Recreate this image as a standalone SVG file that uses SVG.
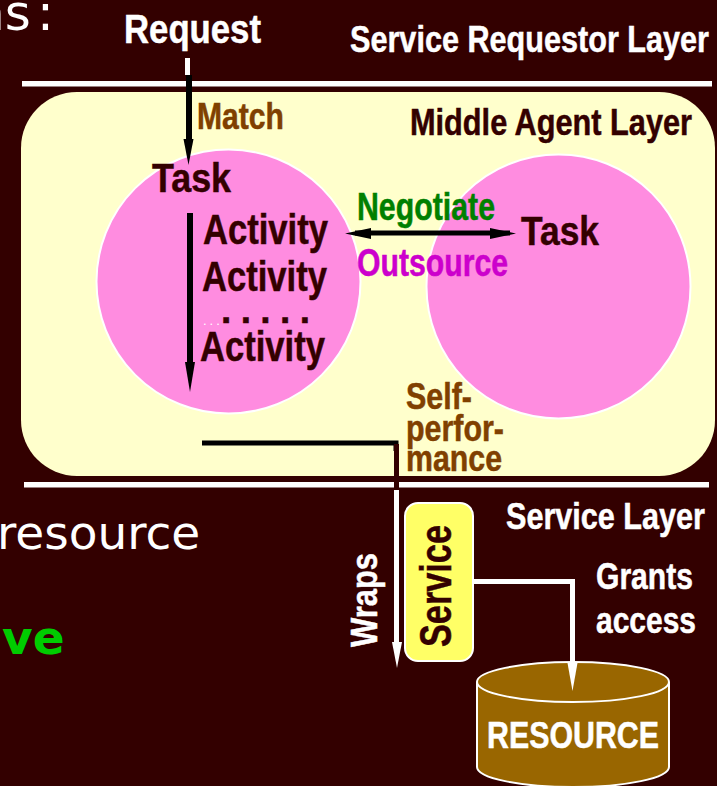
<svg xmlns="http://www.w3.org/2000/svg" width="717" height="786" viewBox="0 0 717 786">
<style>
.b{font-family:"Liberation Sans",Arial,sans-serif;font-weight:700;font-size:37px;stroke-width:.5}
.s38{font-size:38px}.s41{font-size:41px}.s42{font-size:42px}.s44{font-size:44px}
.w{fill:#fff;stroke:#fff}.d{fill:#330000;stroke:#330000}.br{fill:#804000;stroke:#804000}
.v{font-family:"DejaVu Sans",sans-serif}
</style>
<rect width="717" height="786" fill="#330000"/>
<text class="v" fill="#fff" x="-27" y="30" font-size="50">ns<tspan x="37">:</tspan></text>
<text class="v" fill="#fff" x="-3" y="549" font-size="47">resource</text>
<text class="v" x="2" y="654" font-size="47" font-weight="700" fill="#00cc00">ve</text>
<g id="layer-lines">
<rect x="22" y="81" width="690" height="5.500" fill="#fff"/>
<rect x="24" y="482" width="685" height="5.500" fill="#fff"/>
</g>
<g id="middle-agent-layer">
<rect x="21" y="92" width="694" height="384" rx="56" fill="#ffffcc"/>
<text class="b d" x="410" y="135" textLength="282" lengthAdjust="spacingAndGlyphs">Middle Agent Layer</text>
</g>
<g id="circle-left"><circle cx="228.500" cy="281.500" r="132" fill="#ff8ce0" stroke="#fff" stroke-width="2"/></g>
<g id="circle-right"><circle cx="558.500" cy="286.500" r="132" fill="#ff8ce0" stroke="#fff" stroke-width="2"/></g>
<g id="connectors">
<rect x="185" y="58" width="5" height="17" fill="#fff"/>
<rect x="186" y="75" width="6" height="70" fill="#000"/>
<path d="M183.500 139H193.500L188.500 165Z" fill="#000"/>
<rect x="187" y="213" width="6" height="150" fill="#000"/>
<path d="M185 362H195L190 392Z" fill="#000"/>
<rect x="355" y="230.500" width="155" height="5" fill="#000"/>
<path d="M345 233.500L371 228V239Z M516 233.500L490 228V239Z" fill="#000"/>
<path d="M202 443H396V451" fill="none" stroke="#000" stroke-width="5"/>
<rect x="394" y="444" width="5" height="46" fill="#330000"/>
<rect x="394" y="490" width="5" height="152" fill="#fff"/>
<path d="M392 642H402L397 668Z" fill="#fff"/>
<path d="M474 581.500H572.500V665" fill="none" stroke="#fff" stroke-width="5"/>
</g>
<g id="service">
<rect x="405" y="503" width="68" height="158" rx="13" fill="#ffff66" stroke="#fff" stroke-width="2"/>
<text class="b d s44" transform="translate(451,647) rotate(-90)" textLength="122" lengthAdjust="spacingAndGlyphs">Service</text>
</g>
<g id="resource">
<path d="M477 682A96 20 0 0 1 669 682V767A96 20 0 0 1 477 767Z" fill="#996600" stroke="#fff" stroke-width="2"/>
<path d="M477 682A96 20 0 0 0 669 682" fill="none" stroke="#fff" stroke-width="2"/>
<text class="b w" x="487" y="748" textLength="172" lengthAdjust="spacingAndGlyphs">RESOURCE</text>
</g>
<path d="M567.500 663H577.500L572.500 691Z" fill="#fff"/>
<g id="labels">
<text class="b w s41" x="124" y="43" textLength="137" lengthAdjust="spacingAndGlyphs">Request</text>
<text class="b w" x="350" y="52" textLength="359" lengthAdjust="spacingAndGlyphs">Service Requestor Layer</text>
<text class="b br" x="197" y="129" textLength="87" lengthAdjust="spacingAndGlyphs">Match</text>
<text class="b d s41" x="152" y="192" textLength="79" lengthAdjust="spacingAndGlyphs">Task</text>
<text class="b d s42" x="203" y="244" textLength="125" lengthAdjust="spacingAndGlyphs">Activity</text>
<text class="b d s42" x="202" y="291" textLength="125" lengthAdjust="spacingAndGlyphs">Activity</text>
<text class="b d s42" x="200" y="361" textLength="125" lengthAdjust="spacingAndGlyphs">Activity</text>
<text font-family="Liberation Sans, sans-serif" x="203" y="325" font-size="13" fill="#fff" letter-spacing="3">...</text>
<text class="b d" x="221" y="323" textLength="89" lengthAdjust="spacing">.....</text>
<text class="b s38" x="357" y="220" fill="#008000" stroke="#008000" textLength="138" lengthAdjust="spacingAndGlyphs">Negotiate</text>
<text class="b s38" x="357" y="276" fill="#cc00cc" stroke="#cc00cc" textLength="151" lengthAdjust="spacingAndGlyphs">Outsource</text>
<text class="b d s41" x="521" y="245" textLength="78" lengthAdjust="spacingAndGlyphs">Task</text>
<text class="b br" x="406" y="409" textLength="66" lengthAdjust="spacingAndGlyphs">Self-</text>
<text class="b br" x="406" y="441" textLength="98" lengthAdjust="spacingAndGlyphs">perfor-</text>
<text class="b br" x="406" y="471" textLength="96" lengthAdjust="spacingAndGlyphs">mance</text>
<text class="b w" x="506" y="529" textLength="199" lengthAdjust="spacingAndGlyphs">Service Layer</text>
<text class="b w" x="596" y="589" textLength="97" lengthAdjust="spacingAndGlyphs">Grants</text>
<text class="b w" x="596" y="633" textLength="100" lengthAdjust="spacingAndGlyphs">access</text>
<text class="b w" transform="translate(377,647) rotate(-90)" textLength="94" lengthAdjust="spacingAndGlyphs">Wraps</text>
</g>
</svg>
